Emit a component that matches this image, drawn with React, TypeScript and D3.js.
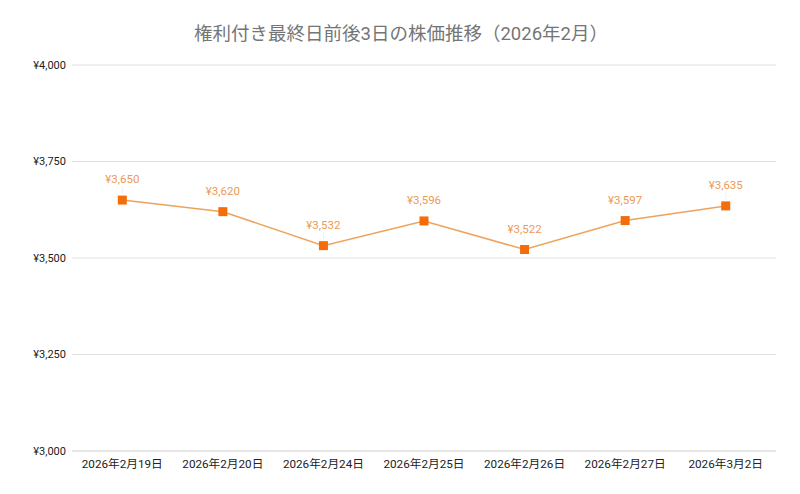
import * as d3 from "d3";

const dates = [
  "2026年2月19日",
  "2026年2月20日",
  "2026年2月24日",
  "2026年2月25日",
  "2026年2月26日",
  "2026年2月27日",
  "2026年3月2日",
];
const prices = [3650, 3620, 3532, 3596, 3522, 3597, 3635];
const yTicks = [3000, 3250, 3500, 3750, 4000];

const W = 800;
const H = 494;
const font = "Roboto, 'Noto Sans CJK JP', sans-serif";

export default function App() {
  const left = 72;
  const right = 776;
  const top = 65;
  const bottom = 451;

  const x = d3.scaleBand<string>().domain(dates).range([left, right]);
  const y = d3.scaleLinear().domain([3000, 4000]).range([bottom, top]);
  const cx = (d: string) => (x(d) ?? 0) + x.bandwidth() / 2;
  const fmt = (v: number) => "¥" + d3.format(",")(v);

  const line = d3
    .line<number>()
    .x((_, i) => cx(dates[i]))
    .y((v) => y(v));

  return (
    <svg
      width={W}
      height={H}
      style={{ position: "absolute", left: 0, top: 0, background: "#fff" }}
      fontFamily={font}
    >
      <text x={401} y={40} textAnchor="middle" fontSize={18.5} fill="#757575">
        権利付き最終日前後3日の株価推移（2026年2月）
      </text>

      {yTicks.map((t) => (
        <g key={t}>
          <line
            x1={left}
            x2={right}
            y1={y(t)}
            y2={y(t)}
            stroke={t === 3000 ? "#cccccc" : "#e0e0e0"}
            strokeWidth={1}
          />
          <text
            x={66}
            y={y(t)}
            dy="0.35em"
            textAnchor="end"
            fontSize={11}
            fill="#222"
          >
            {fmt(t)}
          </text>
        </g>
      ))}

      {dates.map((d) => (
        <text
          key={d}
          x={cx(d)}
          y={468}
          textAnchor="middle"
          fontSize={11.7}
          fill="#222"
        >
          {d}
        </text>
      ))}

      {prices.map((v, i) => (
        <line
          key={"lead" + i}
          x1={cx(dates[i])}
          x2={cx(dates[i])}
          y1={y(v) - 6}
          y2={y(v) - 14}
          stroke="#f3f3f3"
          strokeWidth={1}
        />
      ))}

      <path
        d={line(prices) ?? ""}
        fill="none"
        stroke="#eea35c"
        strokeWidth={1.5}
      />

      {prices.map((v, i) => (
        <g key={i}>
          <rect
            x={cx(dates[i]) - 4.5}
            y={y(v) - 4.5}
            width={9}
            height={9}
            fill="#f46d08"
          />
          <text
            x={cx(dates[i])}
            y={y(v) - 17}
            textAnchor="middle"
            fontSize={11.5}
            fill="#ec9a55"
          >
            {fmt(v)}
          </text>
        </g>
      ))}
    </svg>
  );
}
